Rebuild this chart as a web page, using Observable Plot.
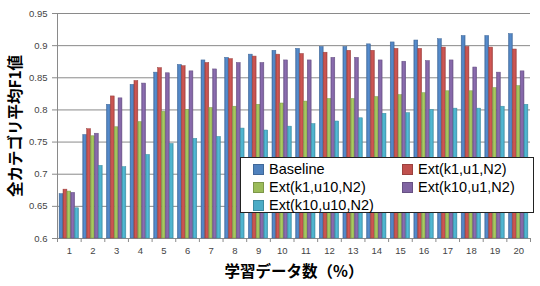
<!DOCTYPE html>
<html><head><meta charset="utf-8">
<script src="https://cdn.jsdelivr.net/npm/d3@7"></script>
<script src="https://cdn.jsdelivr.net/npm/@observablehq/plot@0.6"></script>
<style>
body{margin:0;background:#fff;}
#wrap{position:relative;width:540px;height:286px;font-family:"Liberation Sans",Arial,sans-serif;}
#legend{position:absolute;left:240px;top:157px;width:292px;height:54px;border:1px solid #222;background:#fff;}
.li{position:absolute;display:flex;align-items:center;font-size:14.5px;color:#000;height:18px;}
.sw{width:9px;height:9px;margin-right:5px;border:1px solid;}
svg text{font-family:"Liberation Sans",Arial,sans-serif;}
g[aria-label="x-axis label"] text, g[aria-label="y-axis label"] text{font-family:"Noto Sans CJK JP",sans-serif;font-weight:bold;font-size:15.5px;fill:#000;}
</style></head>
<body><div id="wrap"></div>
<script>
const groups = [1,2,3,4,5,6,7,8,9,10,11,12,13,14,15,16,17,18,19,20];
const seriesNames = ["Baseline","Ext(k1,u1,N2)","Ext(k1,u10,N2)","Ext(k10,u1,N2)","Ext(k10,u10,N2)"];
const baseline = [0.669,0.761,0.808,0.839,0.858,0.870,0.877,0.881,0.886,0.892,0.895,0.898,0.898,0.902,0.905,0.908,0.910,0.915,0.915,0.918];
const k1u1     = [0.676,0.770,0.821,0.845,0.865,0.868,0.873,0.879,0.883,0.886,0.887,0.889,0.892,0.892,0.895,0.895,0.897,0.898,0.897,0.894];
const k1u10    = [0.673,0.759,0.773,0.781,0.797,0.800,0.803,0.805,0.808,0.810,0.813,0.817,0.817,0.820,0.823,0.826,0.829,0.829,0.834,0.837];
const k10u1    = [0.671,0.763,0.818,0.841,0.857,0.860,0.863,0.873,0.873,0.877,0.877,0.881,0.881,0.877,0.875,0.876,0.877,0.866,0.858,0.860];
const k10u10   = [0.647,0.713,0.711,0.730,0.747,0.755,0.758,0.771,0.768,0.774,0.778,0.782,0.787,0.794,0.795,0.800,0.802,0.802,0.805,0.808];
const yTicks = [0.6,0.65,0.7,0.75,0.8,0.85,0.9,0.95];
const colors = ["#4F81BD","#C0504D","#9BBB59","#8064A2","#4BACC6"];
const series = [baseline,k1u1,k1u10,k10u1,k10u10];

const pad = 0.09, bw = (1 - 2*pad)/5;
const marks = [
  Plot.ruleY(yTicks, {stroke:"#8a8a8a", strokeWidth:1}),
];
series.forEach((vals, i) => {
  const data = groups.map((g, j) => ({g, v: vals[j]}));
  marks.push(Plot.rectY(data, {
    x1: d => d.g - 0.5 + pad + i*bw,
    x2: d => d.g - 0.5 + pad + (i+1)*bw,
    y1: 0.6, y2: "v",
    fill: `url(#grad${i})`,
    stroke: d3.color(colors[i]).darker(0.6).formatHex(),
    strokeWidth: 0.5,
    insetLeft: 0, insetRight: 0
  }));
});
const bounds = [0, ...groups].map(g => g + 0.5);
marks.push(
  Plot.ruleX([0.5], {stroke:"#8a8a8a"}),
  Plot.axisY({ticks: yTicks, tickFormat: d => String(+d.toFixed(2)), tickSize: 5, tickPadding: 5, fontSize: 9.5, color:"#444", stroke:"#8a8a8a",
    label: "全カテゴリ平均F1値", labelAnchor: "center", labelArrow: "none", labelOffset: 48}),
  Plot.axisX({ticks: bounds, tickFormat: () => "", tickSize: 4, stroke:"#8a8a8a", label: null}),
  Plot.axisX({ticks: groups, tickSize: 0, tickPadding: 9, fontSize: 9.5, color:"#444",
    label: "学習データ数（%）", labelAnchor: "center", labelArrow: "none", labelOffset: 38})
);

const chart = Plot.plot({
  width: 540, height: 286,
  marginLeft: 57, marginRight: 10, marginTop: 13, marginBottom: 48,
  x: {type: "linear", domain: [0.5, 20.5]},
  y: {domain: [0.6, 0.95]},
  marks
});
const svg = d3.select(chart);
const defs = svg.insert("defs", ":first-child");
colors.forEach((c, i) => {
  const base = d3.color(c);
  const gr = defs.append("linearGradient").attr("id", `grad${i}`).attr("x1", "0").attr("x2", "1").attr("y1", "0").attr("y2", "0");
  gr.append("stop").attr("offset", "0").attr("stop-color", base.darker(0.3).formatHex());
  gr.append("stop").attr("offset", "0.45").attr("stop-color", base.brighter(0.25).formatHex());
  gr.append("stop").attr("offset", "1").attr("stop-color", base.darker(0.2).formatHex());
});
const wrap = document.getElementById("wrap");
wrap.appendChild(chart);

const legend = document.createElement("div");
legend.id = "legend";
const pos = [[12,2],[161,2],[12,20],[161,20],[12,38]];
seriesNames.forEach((name, i) => {
  const it = document.createElement("div");
  it.className = "li";
  it.style.left = pos[i][0] + "px";
  it.style.top = pos[i][1] + "px";
  const sw = document.createElement("span");
  sw.className = "sw";
  sw.style.background = colors[i];
  sw.style.borderColor = d3.color(colors[i]).darker(0.6).formatHex();
  it.appendChild(sw);
  it.appendChild(document.createTextNode(name));
  legend.appendChild(it);
});
wrap.appendChild(legend);
</script></body></html>
